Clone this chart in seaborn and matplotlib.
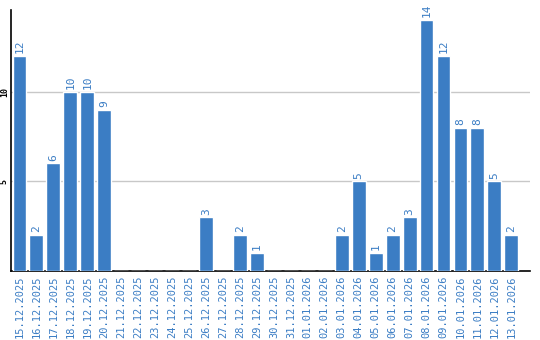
import matplotlib
matplotlib.use("Agg")
import matplotlib.pyplot as plt
import seaborn as sns
import pandas as pd

dates = ["15.12.2025", "16.12.2025", "17.12.2025", "18.12.2025", "19.12.2025",
         "20.12.2025", "21.12.2025", "22.12.2025", "23.12.2025", "24.12.2025",
         "25.12.2025", "26.12.2025", "27.12.2025", "28.12.2025", "29.12.2025",
         "30.12.2025", "31.12.2025", "01.01.2026", "02.01.2026", "03.01.2026",
         "04.01.2026", "05.01.2026", "06.01.2026", "07.01.2026", "08.01.2026",
         "09.01.2026", "10.01.2026", "11.01.2026", "12.01.2026", "13.01.2026"]
counts = [12, 2, 6, 10, 10, 9, 0, 0, 0, 0, 0, 3, 0, 2, 1,
          0, 0, 0, 0, 2, 5, 1, 2, 3, 14, 12, 8, 8, 5, 2]
yticks = [5, 10]

BLUE = "#3b7dc4"

sns.set_theme(style="white")
plt.rcParams['font.family'] = ['DejaVu Sans Mono', 'DejaVu Sans']

df = pd.DataFrame({"date": dates, "count": counts})

fig = plt.figure(figsize=(5.4, 3.4), dpi=100)
ax = fig.add_axes([11/540, (340-271)/340, 519/540, (271-10)/340])

sns.barplot(data=df, x="date", y="count", color=BLUE, saturation=1,
            width=0.82, ax=ax, zorder=3)

for i, v in enumerate(counts):
    if v > 0:
        ax.text(i, v + 0.15, str(v), rotation=90, ha="center", va="bottom",
                color=BLUE, fontsize=8)

ax.set_xlim(-0.5, 30.1)
ax.set_ylim(0, 14.56)
ax.set_yticks(yticks)
ax.set_yticklabels([str(t) for t in yticks], rotation=90, va="center",
                   fontsize=6, color="black", fontweight="bold")
ax.tick_params(axis="y", length=0, pad=1.5)
ax.tick_params(axis="x", length=0, pad=3)
ax.set_xticks(range(len(dates)))
ax.set_xticklabels(dates, rotation=90, color=BLUE, fontsize=7.5)
ax.grid(axis="y", color="#c8c8c8", linewidth=1, zorder=0)
ax.set_xlabel("")
ax.set_ylabel("")
for s in ["top", "right"]:
    ax.spines[s].set_visible(False)
for s in ["left", "bottom"]:
    ax.spines[s].set_color("black")
    ax.spines[s].set_linewidth(1.2)

fig.savefig("out.png", dpi=100)
